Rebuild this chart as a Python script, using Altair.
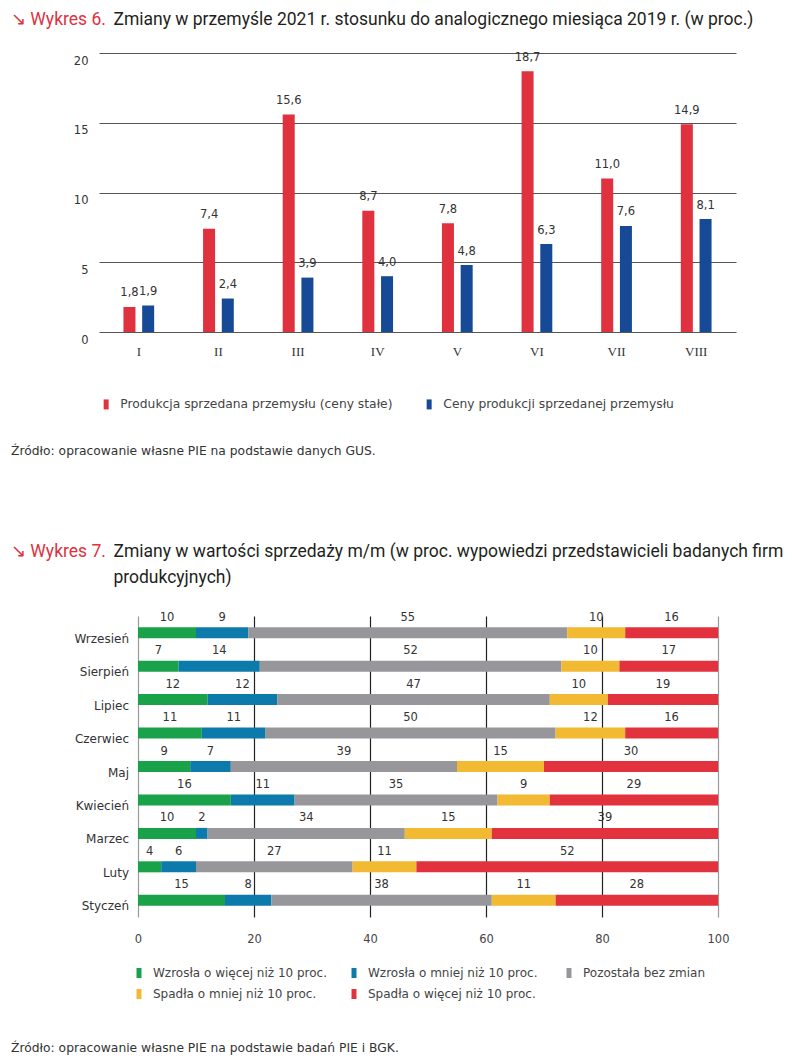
import altair as alt
import pandas as pd

# ---------- Wykres 6 data ----------
months1 = ["I", "II", "III", "IV", "V", "VI", "VII", "VIII"]
produkcja = [1.8, 7.4, 15.6, 8.7, 7.8, 18.7, 11.0, 14.9]
ceny = [1.9, 2.4, 3.9, 4.0, 4.8, 6.3, 7.6, 8.1]
series1 = ["Produkcja sprzedana przemysłu (ceny stałe)", "Ceny produkcji sprzedanej przemysłu"]
colors1 = ["#e0313f", "#174a96"]
y_ticks1 = [0, 5, 10, 15, 20]

# ---------- Wykres 7 data ----------
months2 = ["Wrzesień", "Sierpień", "Lipiec", "Czerwiec", "Maj", "Kwiecień", "Marzec", "Luty", "Styczeń"]
cats2 = ["Wzrosła o więcej niż 10 proc.", "Wzrosła o mniej niż 10 proc.", "Pozostała bez zmian",
         "Spadła o mniej niż 10 proc.", "Spadła o więcej niż 10 proc."]
wzr_wiecej = [10, 7, 12, 11, 9, 16, 10, 4, 15]
wzr_mniej = [9, 14, 12, 11, 7, 11, 2, 6, 8]
bez_zmian = [55, 52, 47, 50, 39, 35, 34, 27, 38]
spad_mniej = [10, 10, 10, 12, 15, 9, 15, 11, 11]
spad_wiecej = [16, 17, 19, 16, 30, 29, 39, 52, 28]
colors2 = ["#19a24a", "#0c7aab", "#97979b", "#f2b933", "#e1323d"]
x_ticks2 = [0, 20, 40, 60, 80, 100]

title1_red = "↘ Wykres 6."
title1 = "Zmiany w przemyśle 2021 r. stosunku do analogicznego miesiąca 2019 r. (w proc.)"
source1 = "Źródło: opracowanie własne PIE na podstawie danych GUS."
title2_red = "↘ Wykres 7."
title2 = ["Zmiany w wartości sprzedaży m/m (w proc. wypowiedzi przedstawicieli badanych firm",
          "produkcyjnych)"]
source2 = "Źródło: opracowanie własne PIE na podstawie badań PIE i BGK."

RED = "#e0313f"
TXT = "#231f20"
BODY = "DejaVu Sans"
TITLEF = "Roboto"
TSIZE = 17.5
SYM = "M-0.5,-1H0.5V1H-0.5Z"

# ---------- build tables ----------
rows1 = []
for i, m in enumerate(months1):
    for s, vals in zip(series1, [produkcja, ceny]):
        v = vals[i]
        rows1.append({"month": m, "series": s, "value": v,
                      "label": f"{v:.1f}".replace(".", ",")})
df1 = pd.DataFrame(rows1)

rows2 = []
for i, m in enumerate(months2):
    for k, (c, vals) in enumerate(zip(cats2, [wzr_wiecej, wzr_mniej, bez_zmian, spad_mniej, spad_wiecej])):
        rows2.append({"month": m, "cat": c, "ord": k, "value": vals[i]})
df2 = pd.DataFrame(rows2)


def txt(text, x, y, color=TXT, font=TITLEF, size=TSIZE, line_height=None):
    kw = dict(align="left", baseline="alphabetic", font=font, fontSize=size, color=color)
    if line_height:
        kw["lineHeight"] = line_height
    return alt.Chart(pd.DataFrame({"d": [0]})).mark_text(**kw).encode(
        text=alt.value(text), x=alt.value(x), y=alt.value(y))


def spacer():
    return alt.Chart(pd.DataFrame({"d": [0]})).mark_point(opacity=0, size=1).encode(
        x=alt.value(0), y=alt.value(0)).properties(width=1, height=1)


# ---------- panel 1 ----------
x1 = alt.X("month:N", sort=months1,
           scale=alt.Scale(paddingInner=0.614, paddingOuter=0.307),
           axis=alt.Axis(title=None, labelAngle=0, ticks=False, tickSize=0, domain=False,
                         labelFont="Liberation Serif", labelFontSize=13, labelColor="#333",
                         labelPadding=13))
xo1 = alt.XOffset("series:N", sort=series1, scale=alt.Scale(paddingInner=0.358, paddingOuter=0))
y1 = alt.Y("value:Q", scale=alt.Scale(domain=[0, 20]),
           axis=alt.Axis(title=None, values=y_ticks1, ticks=False, tickSize=0, domain=False,
                         gridColor="#555", gridWidth=1.2, labelPadding=11, labelOffset=8,
                         labelFont=BODY, labelFontSize=11.5, labelColor="#333"))
color1 = alt.Color("series:N", sort=series1,
                   scale=alt.Scale(domain=series1, range=colors1),
                   legend=alt.Legend(title=None, orient="none", legendX=90, legendY=345,
                                     direction="horizontal", columns=2, columnPadding=30,
                                     symbolType=SYM, symbolSize=100, symbolStrokeWidth=0,
                                     labelOffset=8, labelFont=BODY, labelFontSize=12.3,
                                     labelColor="#444", labelLimit=500))

bars1 = alt.Chart(df1).mark_bar().encode(x=x1, xOffset=xo1, y=y1, color=color1)
labels1 = alt.Chart(df1).mark_text(baseline="middle", dy=-13.5, font=BODY, fontSize=11.5,
                                   color="#333").encode(
    x=alt.X("month:N", sort=months1), xOffset=alt.XOffset("series:N", sort=series1),
    y="value:Q", text="label:N")

panel1 = alt.layer(
    bars1, labels1,
    txt(title1_red, -88, -28.4, color=RED),
    txt(title1, 14.4, -28.4),
    txt(source1, -88, 402, color="#333", font=BODY, size=12.3),
).properties(width=637, height=279)

# ---------- panel 2 ----------
y2 = alt.Y("month:N", sort=months2,
           scale=alt.Scale(paddingInner=0, paddingOuter=0),
           axis=alt.Axis(title=None, ticks=False, tickSize=0, domain=False, grid=False,
                         labelPadding=9.5, labelOffset=6, labelFont=BODY, labelFontSize=12,
                         labelColor="#333"))
x2 = alt.X("v0:Q", scale=alt.Scale(domain=[0, 100]),
           axis=alt.Axis(title=None, values=x_ticks2, ticks=False, tickSize=0, domain=False,
                         labelFlush=False,
                         gridColor={"condition": {"test": "datum.value === 0 || datum.value === 100",
                                                  "value": "#999"}, "value": "#222"},
                         gridWidth=1.2, labelPadding=16, labelFont=BODY, labelFontSize=11.5,
                         labelColor="#444"))
color2 = alt.Color("cat:N", sort=cats2,
                   scale=alt.Scale(domain=cats2, range=colors2),
                   legend=alt.Legend(title=None, orient="none", legendX=123, legendY=351,
                                     direction="horizontal", columns=3, columnPadding=21,
                                     rowPadding=9, gridAlign="all",
                                     symbolType=SYM, symbolSize=100, symbolStrokeWidth=0,
                                     labelOffset=8, labelFont=BODY, labelFontSize=12,
                                     labelColor="#444", labelLimit=500))

base2 = alt.Chart(df2).transform_stack(
    stack="value", groupby=["month"], as_=["v0", "v1"], sort=[alt.SortField("ord")]
).transform_calculate(mid="(datum.v0 + datum.v1) / 2")

bars2 = base2.mark_bar(size=11).encode(y=y2, x=x2, x2="v1:Q", color=color2)
labels2 = base2.mark_text(baseline="middle", dy=-15, font=BODY, fontSize=11.5,
                          color="#333").encode(
    y=alt.Y("month:N", sort=months2), x="mid:Q", text="value:Q")

panel2 = alt.layer(
    bars2, labels2,
    txt(title2_red, -127, -59, color=RED),
    txt(title2, -24.6, -59, line_height=26),
    txt(source2, -127, 436, color="#333", font=BODY, size=12.3),
).properties(width=580, height=301)

rowA = alt.hconcat(spacer(), panel1, spacing=0)
rowB = alt.hconcat(spacer(), panel2, spacing=0)

chart = alt.vconcat(rowA, rowB, spacing=85).resolve_scale(
    color="independent", x="independent", y="independent"
).resolve_legend(color="independent").properties(
    padding={"left": 1, "top": 2, "right": 0, "bottom": 0}
).configure_view(stroke=None)

chart.save("out.html", embed_options={"renderer": "svg", "actions": False})
